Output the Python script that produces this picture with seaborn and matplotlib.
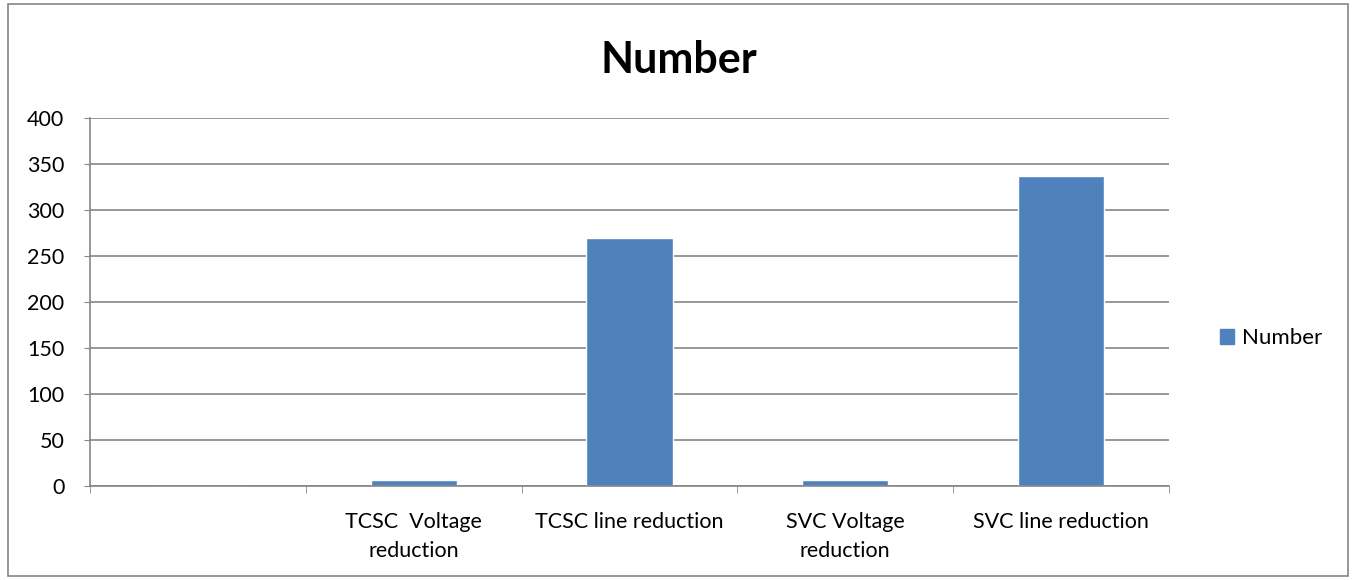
import numpy as np
import pandas as pd
import matplotlib
matplotlib.use("Agg")
import matplotlib.pyplot as plt
import seaborn as sns
from matplotlib.patches import Patch, Rectangle

categories = ["", "TCSC  Voltage\nreduction", "TCSC line reduction",
              "SVC Voltage\nreduction", "SVC line reduction"]
values = [0, 6, 270, 6, 337]
series_name = "Number"

df = pd.DataFrame({"category": categories, "value": values, "series": series_name})

sns.set_style("white")
plt.rcParams["font.family"] = ["Lato", "DejaVu Sans"]
plt.rcParams["text.color"] = "black"
plt.rcParams["xtick.labelcolor"] = "black"
plt.rcParams["ytick.labelcolor"] = "black"

bar_color = "#4F81BD"
grid_color = "#868686"

fig = plt.figure(figsize=(13.56, 5.8), dpi=100)
ax = fig.add_axes([90 / 1356, 1 - 486 / 580, (1169 - 90) / 1356, (486 - 118) / 580])

sns.barplot(data=df, x="category", y="value", hue="series", order=categories,
            palette=[bar_color], saturation=1, width=0.4, ax=ax, legend=False)

ax.set_xlim(-0.5, len(categories) - 0.5)
ax.set_ylim(0, 400)
ax.set_yticks(np.arange(0, 401, 50))
ax.yaxis.grid(True, color=grid_color, linewidth=1.2)
ax.set_axisbelow(True)
ax.set_xlabel("")
ax.set_ylabel("")

for s in ["top", "right"]:
    ax.spines[s].set_visible(False)
for s in ["left", "bottom"]:
    ax.spines[s].set_color(grid_color)
    ax.spines[s].set_linewidth(1.2)

ax.tick_params(axis="y", left=True, length=4.5, color=grid_color,
               labelcolor="black", labelsize=15.5, pad=14)
ax.set_xticks(np.arange(-0.5, len(categories), 1.0), minor=True)
ax.tick_params(axis="x", which="major", length=0, labelcolor="black",
               labelsize=15.5, pad=19)
ax.tick_params(axis="x", which="minor", bottom=True, length=5, color=grid_color)
for lbl in ax.get_xticklabels():
    lbl.set_multialignment("center")
    lbl.set_linespacing(1.55)

fig.text(679 / 1356, 1 - 60 / 580, "Number", ha="center", va="center",
         fontsize=31, fontweight="bold", color="black")

leg = fig.legend(handles=[Patch(color=bar_color, label=series_name)],
                 loc="center left", bbox_to_anchor=(1200 / 1356, 1 - 338 / 580),
                 frameon=False, fontsize=16, handlelength=0.65, handleheight=0.65,
                 handletextpad=0.35)
for t in leg.get_texts():
    t.set_color("black")

fig.patches.append(Rectangle((8 / 1356, 4 / 580), 1340 / 1356, 572 / 580,
                             transform=fig.transFigure, fill=False,
                             edgecolor=grid_color, linewidth=1.2))

fig.savefig("out.png", dpi=100)
